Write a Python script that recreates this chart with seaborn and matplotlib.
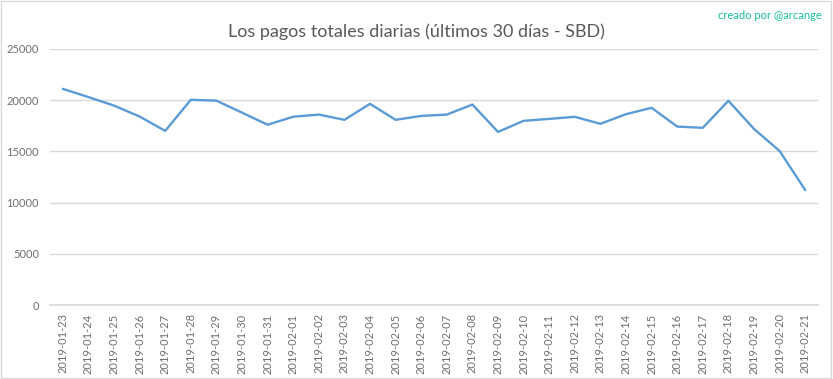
import pandas as pd
import seaborn as sns
import matplotlib.pyplot as plt
from matplotlib.patches import Rectangle

# Datos
fechas = [
    "2019-01-23", "2019-01-24", "2019-01-25", "2019-01-26", "2019-01-27",
    "2019-01-28", "2019-01-29", "2019-01-30", "2019-01-31", "2019-02-01",
    "2019-02-02", "2019-02-03", "2019-02-04", "2019-02-05", "2019-02-06",
    "2019-02-07", "2019-02-08", "2019-02-09", "2019-02-10", "2019-02-11",
    "2019-02-12", "2019-02-13", "2019-02-14", "2019-02-15", "2019-02-16",
    "2019-02-17", "2019-02-18", "2019-02-19", "2019-02-20", "2019-02-21",
]
pagos = [
    21100, 20300, 19470, 18400, 17000,
    20030, 19950, 18780, 17600, 18380,
    18590, 18080, 19640, 18080, 18460,
    18590, 19570, 16900, 17980, 18170,
    18370, 17690, 18630, 19250, 17420,
    17300, 19940, 17190, 15040, 11230,
]
y_ticks = [0, 5000, 10000, 15000, 20000, 25000]

df = pd.DataFrame({"fecha": fechas, "pagos": pagos})

sns.set_theme(style="white")
plt.rcParams["font.family"] = ["Lato", "DejaVu Sans"]

gris = "#595959"
fig = plt.figure(figsize=(8.33, 3.79), dpi=100)
ax = fig.add_axes([0.060, 0.195, 0.922, 0.676])

sns.lineplot(data=df, x="fecha", y="pagos", sort=False, color="#5B9BD5",
             linewidth=1.7, ax=ax)

ax.set_xlim(-0.5, len(fechas) - 0.5)
ax.set_ylim(0, 25000)
ax.set_yticks(y_ticks)
ax.set_yticklabels([str(v) for v in y_ticks])
ax.grid(axis="y", color="#D9D9D9", linewidth=1)
ax.set_axisbelow(True)
for s in ["top", "right", "left"]:
    ax.spines[s].set_visible(False)
ax.spines["bottom"].set_color("#D9D9D9")
ax.tick_params(axis="both", length=0, colors="#6E6E6E", labelsize=8)
ax.tick_params(axis="x", rotation=90, pad=6)
ax.tick_params(axis="y", pad=8)
ax.set_xlabel("")
ax.set_ylabel("")

fig.text(0.5, 0.915, "Los pagos totales diarias (últimos 30 días - SBD)",
         ha="center", va="center", fontsize=13, color=gris)
fig.text(0.987, 0.96, "creado por @arcange", ha="right", va="center",
         fontsize=8, color="#1ABC9C")

fig.add_artist(Rectangle((0.001, 0.002), 0.997, 0.995, transform=fig.transFigure,
                         fill=False, edgecolor="#D9D9D9", linewidth=1))

fig.savefig("out.png", dpi=100)
